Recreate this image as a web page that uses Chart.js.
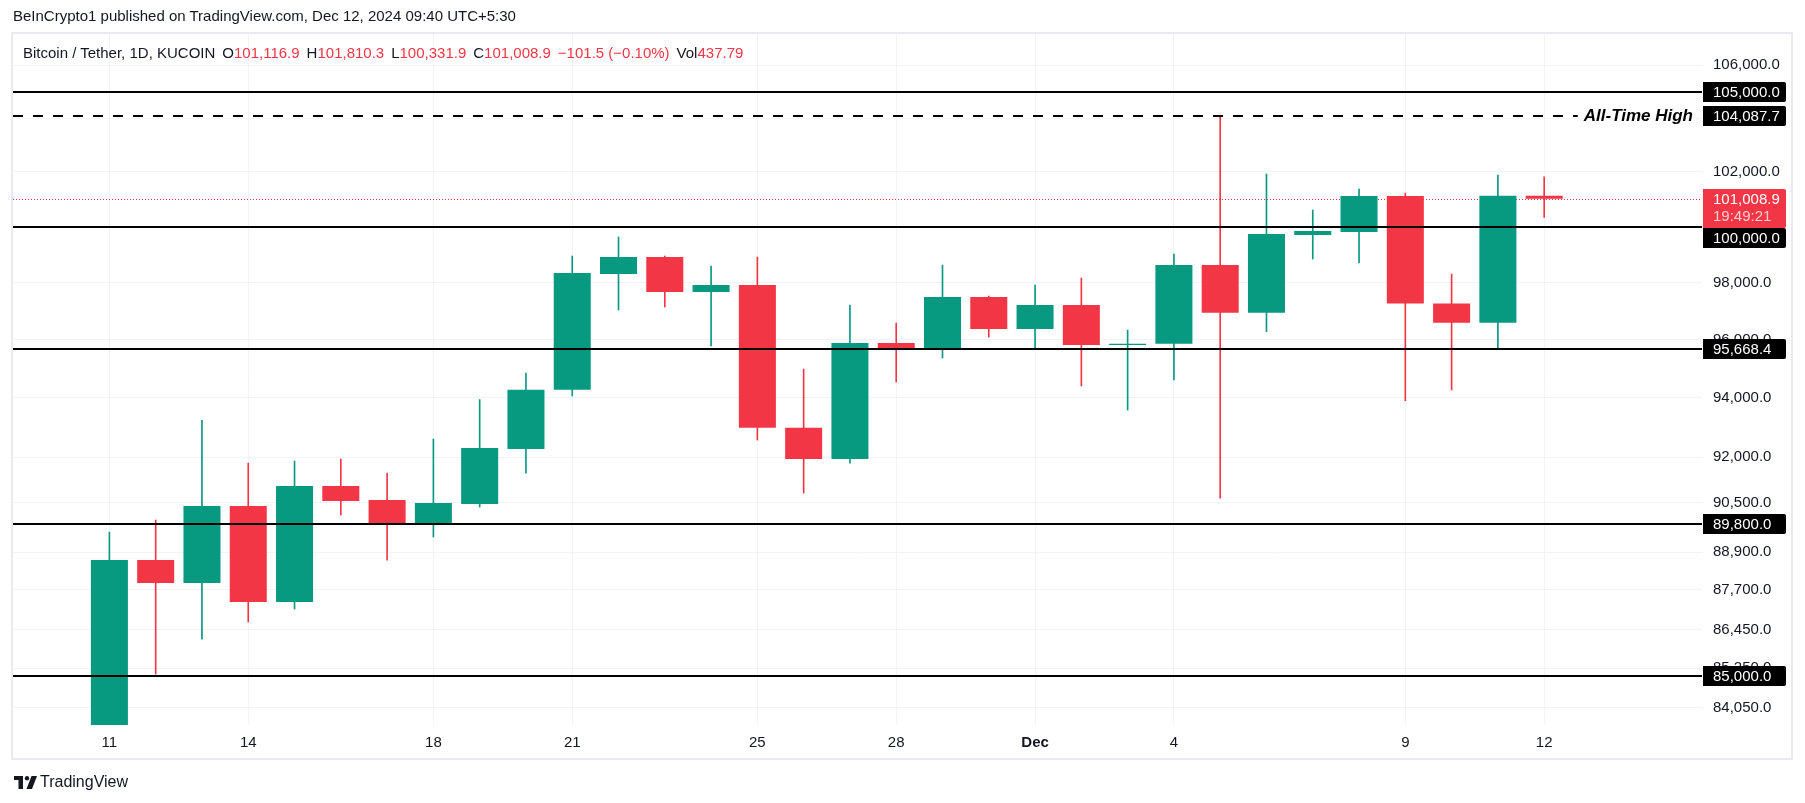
<!DOCTYPE html>
<html>
<head>
<meta charset="utf-8">
<title>Bitcoin / Tether, 1D, KUCOIN</title>
<script src="https://cdn.jsdelivr.net/npm/chart.js@4.4.1/dist/chart.umd.min.js"></script>
<style>
  html, body { margin: 0; padding: 0; background: #fff; }
  body { width: 1805px; height: 803px; position: relative; overflow: hidden;
         font-family: 'Liberation Sans', Arial, sans-serif; color: #131722; }
  #chart { position: absolute; left: 0; top: 0; }
  .pub { position: absolute; left: 13px; top: 6px; font-size: 15px; line-height: 20px; white-space: nowrap; }
  .legend { position: absolute; left: 23px; top: 43px; font-size: 15px; line-height: 20px; white-space: nowrap; }
  .legend span { margin-left: 7px; }
  .legend span:first-child { margin-left: 0; }
  .legend .v { color: #f23645; margin-left: 0; }
  .brand { position: absolute; left: 14px; top: 772px; height: 20px; font-size: 16px; line-height: 20px;
           display: flex; align-items: center; white-space: nowrap; }
  .brand svg { margin-right: 3px; }
</style>
</head>
<body>
<canvas id="chart" width="1805" height="803"></canvas>
<div class="pub">BeInCrypto1 published on TradingView.com, Dec 12, 2024 09:40 UTC+5:30</div>
<div class="legend"><span>Bitcoin / Tether, 1D, KUCOIN</span><span>O</span><span class="v">101,116.9</span><span>H</span><span class="v">101,810.3</span><span>L</span><span class="v">100,331.9</span><span>C</span><span class="v">101,008.9</span><span class="v" style="margin-left:7px">−101.5 (−0.10%)</span><span>Vol</span><span class="v">437.79</span></div>
<div class="brand"><svg width="23" height="13" viewBox="0 0 23 13"><path d="M0 0h9v4H0z M4.5 0h4.5v13H4.5z" fill="#131722"/><circle cx="13" cy="2.2" r="2.2" fill="#131722"/><path d="M17.5 0h5.5l-5 13h-5.5z" fill="#131722"/></svg>TradingView</div>
<script>
// daily candles, Nov 11 - Dec 12 2024
const days = ['Nov 11','Nov 12','Nov 13','Nov 14','Nov 15','Nov 16','Nov 17','Nov 18','Nov 19','Nov 20',
  'Nov 21','Nov 22','Nov 23','Nov 24','Nov 25','Nov 26','Nov 27','Nov 28','Nov 29','Nov 30',
  'Dec 1','Dec 2','Dec 3','Dec 4','Dec 5','Dec 6','Dec 7','Dec 8','Dec 9','Dec 10','Dec 11','Dec 12'];
const opens  = [80370, 88646, 87912, 90393, 87311, 91049, 90590, 89839, 90458, 92274,
  94274, 98299, 98905, 97662, 97909, 92988, 91942, 95878, 95636, 97485,
  96364, 97204, 95809, 95850, 98619, 96934, 99694, 99803, 101110, 97256, 96584, 101116.9];
const highs  = [89547, 89937, 93240, 91809, 91875, 91942, 91477, 92609, 93940, 94844,
  98941, 99622, 98941, 98584, 98905, 94981, 97204, 96574, 98619, 97520,
  97909, 98157, 96330, 99012, 104087.7, 101917, 100599, 101366, 101219, 98299, 101880, 101810.3];
const lows   = [80216, 85068, 86151, 86682, 87090, 90099, 88646, 89386, 90360, 91477,
  94059, 97029, 97134, 95774, 92575, 90819, 91809, 94536, 95360, 96086,
  95670, 94400, 93584, 94605, 90655, 96271, 98833, 98691, 93900, 94263, 95660, 100331.9];
const closes = [88646, 87912, 90393, 87311, 91049, 90556, 89839, 90491, 92308, 94274,
  98335, 98905, 97662, 97909, 92988, 91942, 95878, 95636, 97485, 96364,
  97204, 95809, 95850, 98619, 96934, 99730, 99839, 101110, 97256, 96584, 101117, 101008.9];

const tickIdx = [0, 3, 7, 10, 14, 17, 20, 23, 28, 31];
const tickLabels = ['11', '14', '18', '21', '25', '28', 'Dec', '4', '9', '12'];
const priceTicks = [84050, 85250, 86450, 87700, 88900, 90500, 92000, 94000, 96000, 98000, 100000, 102000, 104000, 106000];

const levels = [105000, 100000, 95668.4, 89800, 85000];
const athLevel = 104087.7;
const athText = 'All-Time High';
const lastPrice = 101008.9;
const countdown = '19:49:21';

const FONT = "'Liberation Sans', Arial, sans-serif";
const UP = '#089981', DOWN = '#f23645';

const fmt = v => Number(v).toLocaleString('en-US', { minimumFractionDigits: 1, maximumFractionDigits: 1 });
const colors = closes.map((c, i) => c >= opens[i] ? UP : DOWN);

const bodies = days.map((d, i) => ({ x: i, y: [opens[i], closes[i]] }));
const wicks = days.map((d, i) => ({ x: i, y: [lows[i], highs[i]] }));

const overlay = {
  id: 'overlay',
  beforeDatasetsDraw(chart) {
    const { ctx, chartArea: a, scales: { y } } = chart;
    const py = Math.round(y.getPixelForValue(lastPrice)) + 0.5;
    ctx.save();
    ctx.strokeStyle = DOWN;
    ctx.lineWidth = 1;
    ctx.setLineDash([1, 2]);
    ctx.beginPath();
    ctx.moveTo(a.left, py);
    ctx.lineTo(a.right, py);
    ctx.stroke();
    ctx.restore();
  },
  afterDatasetsDraw(chart) {
    const { ctx, chartArea: a, scales: { y } } = chart;
    ctx.save();
    ctx.strokeStyle = '#000';
    ctx.lineWidth = 2;
    levels.forEach(v => {
      const py = Math.round(y.getPixelForValue(v));
      ctx.beginPath();
      ctx.moveTo(a.left - 1, py);
      ctx.lineTo(a.right, py);
      ctx.stroke();
    });
    // all-time high, dashed with text
    const ay = Math.round(y.getPixelForValue(athLevel));
    ctx.font = 'italic bold 17px ' + FONT;
    const tw = ctx.measureText(athText).width;
    const tx = a.right - 9 - tw;
    ctx.setLineDash([10, 10]);
    ctx.beginPath();
    ctx.moveTo(a.left, ay);
    ctx.lineTo(tx - 6, ay);
    ctx.stroke();
    ctx.setLineDash([]);
    ctx.fillStyle = '#000';
    ctx.textBaseline = 'middle';
    ctx.textAlign = 'left';
    ctx.fillText(athText, tx, ay);
    ctx.restore();
  },
  afterDraw(chart) {
    const { ctx, scales: { y } } = chart;
    const bx = y.left + 1, bw = 83, tx = y.left + 11;
    ctx.save();
    ctx.font = '15px ' + FONT;
    ctx.textBaseline = 'middle';
    ctx.textAlign = 'left';

    // current price tag
    const py = Math.round(y.getPixelForValue(lastPrice));
    const rTop = py - 10, rBot = py + 29;
    ctx.fillStyle = DOWN;
    ctx.beginPath();
    ctx.roundRect(bx, rTop, bw, rBot - rTop, [0, 2, 2, 0]);
    ctx.fill();
    ctx.fillStyle = '#fff';
    ctx.fillText(fmt(lastPrice), tx, py + 1);
    ctx.fillStyle = 'rgba(255,255,255,0.75)';
    ctx.fillText(countdown, tx, py + 18);

    [...levels, athLevel].forEach(v => {
      let c = Math.round(y.getPixelForValue(v));
      if (c - 10 < rBot && c + 10 > rTop) c = rBot + 10;
      ctx.fillStyle = '#000';
      ctx.beginPath();
      ctx.roundRect(bx, c - 10, bw, 20, [0, 2, 2, 0]);
      ctx.fill();
      ctx.fillStyle = '#fff';
      ctx.fillText(fmt(v), tx, c + 1);
    });

    // pane border
    ctx.strokeStyle = '#e9eaf0';
    ctx.lineWidth = 2;
    ctx.strokeRect(12, 33, 1780, 726);
    ctx.restore();
  }
};

new Chart(document.getElementById('chart'), {
  type: 'bar',
  data: {
    datasets: [
      { label: 'wick', data: wicks, backgroundColor: colors, barThickness: 1, grouped: false, order: 2 },
      { label: 'body', data: bodies, backgroundColor: colors, barPercentage: 0.8, categoryPercentage: 1,
        grouped: false, order: 1, minBarLength: 1 }
    ]
  },
  options: {
    responsive: false,
    animation: false,
    layout: { padding: { left: 13, top: 34, right: 13, bottom: 44 } },
    plugins: { legend: { display: false }, tooltip: { enabled: false } },
    scales: {
      x: {
        type: 'linear',
        min: -2.083,
        max: 34.41,
        offset: false,
        grid: { color: '#f0f3fa', drawTicks: false, offset: false },
        border: { display: false },
        ticks: {
          padding: 9,
          color: '#131722',
          autoSkip: false,
          maxRotation: 0,
          font: c => ({ family: FONT, size: 15, weight: (c.tick && tickLabels[tickIdx.indexOf(c.tick.value)] === 'Dec') ? 'bold' : 'normal' }),
          callback: v => { const k = tickIdx.indexOf(v); return k >= 0 ? tickLabels[k] : ''; }
        },
        afterBuildTicks: s => { s.ticks = tickIdx.map(v => ({ value: v })); },
        afterFit: s => { s.height = 34; }
      },
      y: {
        type: 'logarithmic',
        position: 'right',
        min: 83517,
        max: 107206,
        beginAtZero: false,
        grid: { color: '#f0f3fa', drawTicks: false },
        border: { display: false },
        ticks: {
          padding: 11,
          color: '#131722',
          autoSkip: false,
          font: { family: FONT, size: 15 },
          callback: v => fmt(v)
        },
        afterBuildTicks: s => { s.ticks = priceTicks.map(v => ({ value: v })); },
        afterFit: s => { s.width = 90; }
      }
    }
  },
  plugins: [overlay]
});
</script>
</body>
</html>
